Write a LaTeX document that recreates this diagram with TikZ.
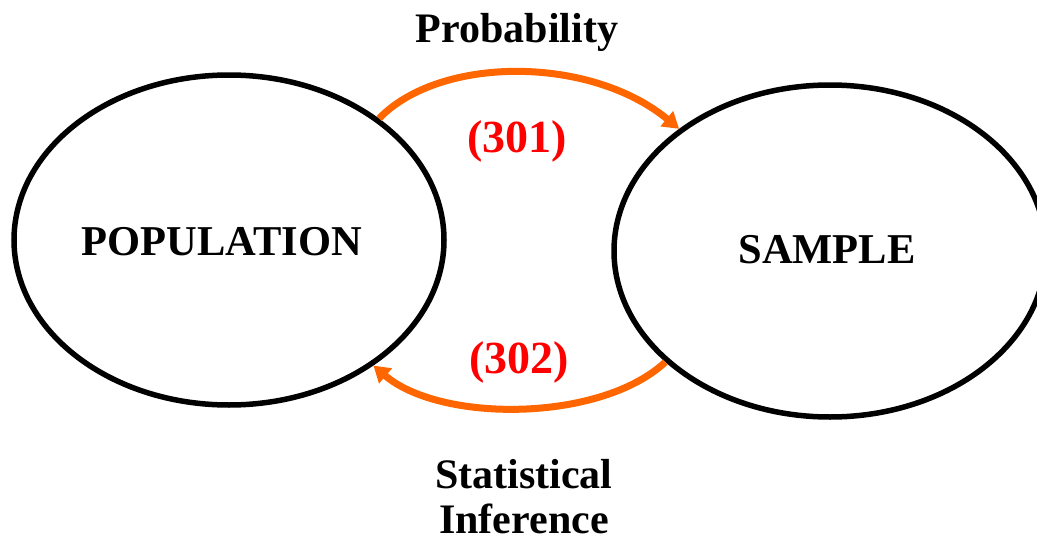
\documentclass[tikz,border=0pt]{standalone}
\usepackage{fontspec}
\setmainfont{Liberation Serif}
\usetikzlibrary{shapes.geometric,arrows.meta}
\definecolor{arroworange}{RGB}{255,102,0}
\definecolor{labelred}{RGB}{255,0,0}
\begin{document}
\begin{tikzpicture}[x=1pt,y=-1pt,
  blob/.style={ellipse,draw=black,line width=5.5pt,inner sep=0pt},
  blobtext/.style={font=\bfseries\fontsize{42.5}{45}\selectfont,anchor=base},
  flow/.style={draw=arroworange,line width=7pt,
    -{Triangle[length=16pt,width=19pt]}},
  caption/.style={font=\bfseries\fontsize{42}{45}\selectfont,anchor=base,align=center},
  code/.style={font=\bfseries\fontsize{46}{48}\selectfont,text=labelred,anchor=base}]
\useasboundingbox (0,0) rectangle (1037,541);
\node[blob,minimum width=430pt,minimum height=330pt] (pop) at (229,240) {};
\node[blob,minimum width=432pt,minimum height=332pt] (smp) at (830,251) {};
\node[blobtext] (poptext) at (222,255) {POPULATION};
\node[blobtext] (smptext) at (827,263) {SAMPLE};
\draw[flow] (pop.39.5) .. controls (440,55.5) and (590,55.5) .. (smp.141);
\draw[flow] (smp.214.6) .. controls (600,422.7) and (440,422.7) .. (pop.319.3);
\node[caption] (prob) at (517,42) {Probability};
\node[caption] (stat) at (524,533) {Statistical\\Inference};
\node[code] (c301) at (517,152) {(301)};
\node[code] (c302) at (519,373) {(302)};
\end{tikzpicture}
\end{document}
